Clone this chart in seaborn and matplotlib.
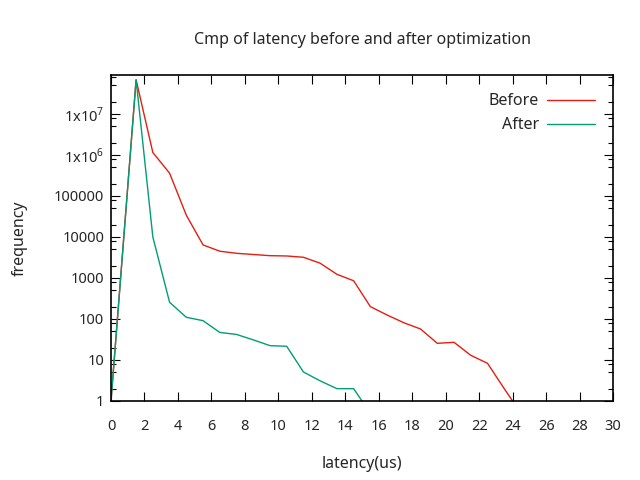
import matplotlib
matplotlib.use('Agg')
import matplotlib.pyplot as plt
import matplotlib.ticker as mticker
import pandas
import seaborn

# latency bins (us) and counts
before_x = [0, 1.5, 2.5, 3.5, 4.5, 5.5, 6.5, 7.5, 8.5, 9.5, 10.5, 11.5, 12.5, 13.5,
            14.5, 15.5, 16.5, 17.5, 18.5, 19.5, 20.5, 21.5, 22.5, 23.5, 24.5]
before_y = [1, 6.8e7, 1.15e6, 3.6e5, 3.4e4, 6400, 4500, 4000, 3740, 3500, 3440, 3200,
            2290, 1230, 855, 200, 125, 81, 57, 25.5, 27, 13, 8.3, 2, 0.5]
after_x = [0, 1.5, 2.5, 3.5, 4.5, 5.5, 6.5, 7.5, 8.5, 9.5, 10.5, 11.5, 12.5, 13.5,
           14.5, 15.5]
after_y = [1, 6.8e7, 1.0e4, 256, 110, 91, 47, 42, 31, 22.4, 21.6, 5.1, 3.1, 2, 2, 0.5]

x_ticks = list(range(0, 31, 2))
y_ticks = [1, 10, 100, 1000, 10000, 100000, 1e6, 1e7]
y_labels = ['1', '10', '100', '1000', '10000', '100000', '1x10$^{6}$', '1x10$^{7}$']

df_before = pandas.DataFrame({'latency': before_x, 'frequency': before_y})
df_after = pandas.DataFrame({'latency': after_x, 'frequency': after_y})

seaborn.set_style('ticks')
plt.rcParams['font.family'] = ['Noto Sans', 'DejaVu Sans']
plt.rcParams['mathtext.fontset'] = 'custom'
plt.rcParams['mathtext.rm'] = 'Noto Sans'

fs = 11.5
fig = plt.figure(figsize=(6.4, 4.8), dpi=100)
ax = fig.add_axes([111 / 640, 79 / 480, 502 / 640, 326 / 480])

seaborn.lineplot(data=df_before, x='latency', y='frequency', color='#e51e10',
                 linewidth=1, label='Before', ax=ax, sort=False)
seaborn.lineplot(data=df_after, x='latency', y='frequency', color='#009e73',
                 linewidth=1, label='After', ax=ax, sort=False)

ax.set_yscale('log')
ax.set_xlim(0, 30)
ax.set_ylim(1, 10 ** 7.95)
ax.set_xticks(x_ticks)
ax.set_yticks(y_ticks)
ax.set_yticklabels(y_labels)
ax.yaxis.set_minor_locator(mticker.LogLocator(base=10, subs=(2, 5, 8)))
ax.yaxis.set_minor_formatter(mticker.NullFormatter())

ax.tick_params(which='both', direction='in', top=True, right=True, labelsize=10.5,
               color='black', width=0.8)
ax.tick_params(axis='x', which='major', length=6.5, pad=13)
ax.tick_params(axis='y', which='major', length=6.5, pad=5)
ax.tick_params(which='minor', length=3.3)
for s in ax.spines.values():
    s.set_visible(True)
    s.set_linewidth(1.2)
    s.set_color('black')

ax.set_title('Cmp of latency before and after optimization', fontsize=fs, pad=22)
ax.set_xlabel('latency(us)', fontsize=fs, labelpad=16)
ax.set_ylabel('frequency', fontsize=fs, labelpad=19)

ax.legend(loc='upper right', bbox_to_anchor=(0.976, 0.964), frameon=False,
          markerfirst=False, handlelength=3.0, labelspacing=0.5, fontsize=fs,
          borderaxespad=0, handletextpad=0.5)

fig.savefig('out.png', dpi=100)
